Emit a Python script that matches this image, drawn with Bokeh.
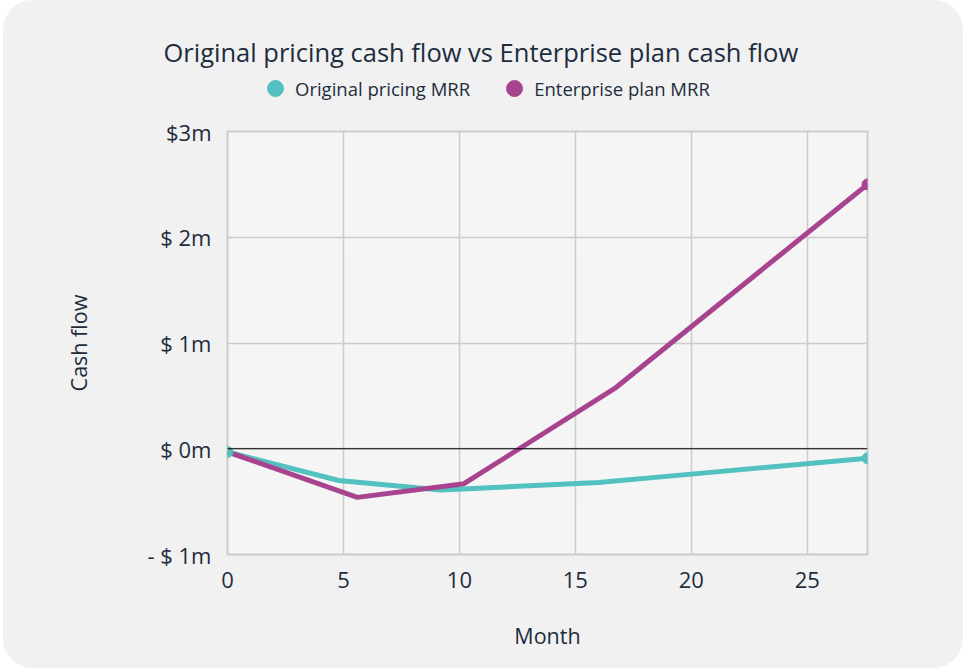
from bokeh.plotting import figure
from bokeh.layouts import column
from bokeh.models import Range1d, Span, Legend, LegendItem, FixedTicker
from bokeh.embed import file_html
from bokeh.resources import INLINE

# ---- data (months, cash flow in $m) ----
orig_month = [0, 4.8, 9.2, 16.0, 20.0, 27.6]
orig_cash = [-0.03, -0.30, -0.39, -0.32, -0.24, -0.09]
ent_month = [0, 5.6, 10.2, 16.7, 27.6]
ent_cash = [-0.03, -0.46, -0.33, 0.57, 2.50]

x_ticks = [0, 5, 10, 15, 20, 25]
y_ticks = [-1, 0, 1, 2, 3]
y_tick_labels = ["- $ 1m", "$ 0m", "$ 1m", "$ 2m", "$3m"]

series_names = ["Original pricing MRR", "Enterprise plan MRR"]
TITLE = "Original pricing cash flow vs Enterprise plan cash flow"
TEAL = "#52c1c0"
MAGENTA = "#a8448f"
TXT = "#1e2d3d"
BG = "#f1f1f1"
FONT = "Open Sans"

# ---------- header: title + legend ----------
header = figure(
    width=960, height=108,
    min_border_left=0, min_border_right=0, min_border_top=68, min_border_bottom=0,
    x_range=Range1d(-1000, -999), y_range=Range1d(-1000, -999),
    x_axis_location=None, y_axis_location=None,
    output_backend="svg", toolbar_location=None,
    background_fill_color=BG, border_fill_color=BG,
)
header.outline_line_color = None
header.grid.visible = False
header.title.text = TITLE
header.title.align = "left"
header.title.offset = -64
header.title.text_font = FONT
header.title.text_font_size = "25.5px"
header.title.text_font_style = "normal"
header.title.text_color = TXT
header.title.standoff = 0

# legend swatches reuse the series end points (outside the header's view range)
leg_orig = header.scatter(x=[orig_month[-1]], y=[orig_cash[-1]], size=11, color=TEAL)
leg_ent = header.scatter(x=[ent_month[-1]], y=[ent_cash[-1]], size=11, color=MAGENTA)
legend = Legend(
    items=[LegendItem(label=series_names[0], renderers=[leg_orig]),
           LegendItem(label=series_names[1], renderers=[leg_ent])],
    orientation="horizontal", location=(28, 0),
    border_line_color=None, background_fill_alpha=0,
    label_text_font=FONT, label_text_font_size="18.5px", label_text_color=TXT,
    spacing=24, glyph_width=40, glyph_height=40, label_standoff=0,
    margin=0, padding=0,
)
header.add_layout(legend)

# ---------- main chart ----------
p = figure(
    frame_width=640, frame_height=423,
    min_border_left=224, min_border_right=96, min_border_top=23, min_border_bottom=114,
    x_range=Range1d(0, 27.6), y_range=Range1d(-1, 3),
    output_backend="svg", toolbar_location=None,
    background_fill_color="#f5f5f5", border_fill_color=BG,
)
p.outline_line_color = "#cccccc"
p.outline_line_width = 2

for g in (p.xgrid, p.ygrid):
    g.grid_line_color = "#cccccc"
    g.grid_line_width = 1.5
p.xgrid.ticker = FixedTicker(ticks=x_ticks)
p.ygrid.ticker = FixedTicker(ticks=y_ticks)

p.xaxis.ticker = FixedTicker(ticks=x_ticks)
p.yaxis.ticker = FixedTicker(ticks=y_ticks)
p.yaxis.major_label_overrides = {t: l for t, l in zip(y_ticks, y_tick_labels)}
for ax in (p.xaxis, p.yaxis):
    ax.axis_line_color = None
    ax.major_tick_line_color = None
    ax.minor_tick_line_color = None
    ax.major_label_text_font = FONT
    ax.major_label_text_font_size = "22px"
    ax.major_label_text_color = TXT
    ax.axis_label_text_font = FONT
    ax.axis_label_text_font_size = "21.5px"
    ax.axis_label_text_font_style = "normal"
    ax.axis_label_text_color = TXT
p.xaxis.axis_label = "Month"
p.yaxis.axis_label = "Cash flow"
p.xaxis.major_label_standoff = 11
p.yaxis.major_label_standoff = 10
p.xaxis.axis_label_standoff = 30
p.yaxis.axis_label_standoff = 51

p.add_layout(Span(location=0, dimension="width", line_color="black", line_width=1.2))

p.line(orig_month, orig_cash, line_color=TEAL, line_width=5)
p.line(ent_month, ent_cash, line_color=MAGENTA, line_width=5)
p.scatter([ent_month[-1]], [ent_cash[-1]], size=11, color=MAGENTA)
p.scatter([orig_month[0], orig_month[-1]], [orig_cash[0], orig_cash[-1]], size=11, color=TEAL)

layout = column(
    header, p, spacing=0,
    styles={"border-radius": "30px", "overflow": "hidden", "margin-left": "3px",
            "background-color": BG},
)

open("out.html", "w").write(file_html(layout, INLINE))
